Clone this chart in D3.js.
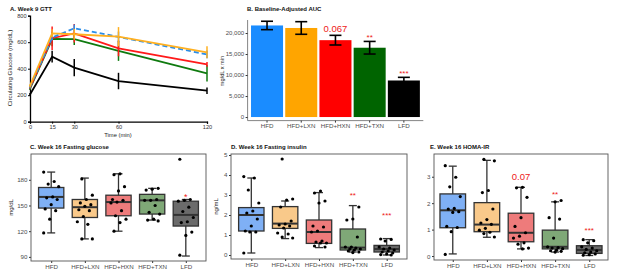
<!DOCTYPE html>
<html><head><meta charset="utf-8">
<script src="https://cdn.jsdelivr.net/npm/d3@7"></script>
<style>
body{margin:0;background:#fff;}
svg{display:block;font-family:"Liberation Sans",Arial,sans-serif;}
</style></head>
<body><svg id="c" width="617" height="280"></svg>
<script>
// ---------- DATA ----------
const groups = ["HFD","HFD+LXN","HFD+HXN","HFD+TXN","LFD"];
const barColors = ["#1a8cff","#ffa500","#ff0000","#006400","#000000"];
const boxFills = ["#7fb0f5","#f9c98a","#ee7b7b","#7fa877","#6b6b6b"];

// Panel A: GTT
const gttTimes = [0,15,30,60,120];
const gttHFD = [262,635,705,640,508];
const gttHFDsem = [10,20,28,40,30];
const gttLXN = [270,667,660,642,524];
const gttLXNsem = [10,30,40,72,45];
const gttHXN = [258,630,667,554,433];
const gttHXNsem = [10,88,70,60,18];
const gttTXN = [250,624,623,534,365];
const gttTXNsem = [10,55,45,75,62];
const gttLFD = [205,491,408,307,234];
const gttLFDsem = [10,45,65,62,24];
const gttYTicks = [0,200,400,600,800];

// Panel B: AUC
const aucMean = [21800,21200,18300,16500,8700];
const aucSem = [1000,1500,1150,1500,750];
const aucYTicks = [0,5000,10000,15000,20000];
const aucNotes = ["","","0.067","**","***"];

// Panel C: fasting glucose  [lowWhisker, q1, median, q3, highWhisker]
const gluStats = [[118,147,160,171,189],[111,136,148,157,182],[120,138,154,162,187],[133,140,156,163,170],[91,126,139,155,157]];
const gluPoints = [
  [189,178,175,172,160,159,157,151,146,144,134,118],
  [181,162,157,153,151,149,145,144,137,131,128,111,111],
  [187,186,172,167,157,156,154,153,144,138,134,130,120],
  [170,169,168,157,156,156,150,142,140,134,133,132],
  [204,157,156,155,148,143,136,131,130,119,115,92]];
const gluYTicks = [90,120,150,180];
const gluNotes = ["","","","","*"];
const gluNoteY = [0,0,0,0,162];

// Panel D: fasting insulin
const insStats = [[0.1,1.2,2.0,2.37,3.85],[0.82,1.33,1.57,2.42,2.7],[0.37,0.58,1.15,1.75,3.12],[0.15,0.25,0.37,1.3,2.47],[0.0,0.15,0.3,0.48,0.82]];
const insPoints = [
  [3.92,3.85,3.25,2.6,2.2,2.1,1.8,1.45,1.2,1.15,1.15,0.1],
  [4.8,2.8,2.75,2.4,1.7,1.55,1.5,1.45,1.35,1.1,1.05,0.9,0.85],
  [3.2,3.1,2.7,2.6,1.45,1.4,1.2,1.15,0.7,0.65,0.6,0.6,0.45,0.4],
  [2.4,1.8,1.75,0.9,0.4,0.4,0.35,0.3,0.3,0.25,0.2,0.15,0.12],
  [0.8,0.78,0.7,0.4,0.35,0.3,0.25,0.2,0.15,0.1,0.05,0.02,0.0]];
const insYTicks = [0,1,2,3,4,5];
const insNotes = ["","","","**","***"];
const insNoteY = [0,0,0,3.08,2.08];

// Panel E: HOMA-IR
const homaStats = [[0.08,1.07,1.73,2.35,3.4],[0.71,0.92,1.19,2.02,3.62],[0.27,0.54,0.88,1.62,2.6],[0.15,0.27,0.35,0.98,2.05],[0.02,0.1,0.23,0.39,0.62]];
const homaPoints = [
  [3.42,2.98,2.62,2.25,1.8,1.78,1.68,1.65,1.12,1.08,0.92,0.06],
  [3.66,3.6,2.48,2.4,1.78,1.38,1.25,1.2,1.05,0.98,0.9,0.85,0.72],
  [2.6,2.58,2.22,1.45,1.12,0.88,0.75,0.68,0.5,0.45,0.3,0.27],
  [2.1,2.05,1.45,1.4,0.68,0.35,0.32,0.3,0.28,0.22,0.2,0.18,0.15],
  [0.62,0.58,0.5,0.35,0.3,0.25,0.2,0.15,0.12,0.08,0.05,0.03]];
const homaYTicks = [0,1,2,3];
const homaNotes = ["","","0.07","**","***"];
const homaNoteY = [0,0,3.0,2.42,1.06];

// ---------- DRAW ----------
const svg = d3.select("#c");
const grey = "#4d4d4d";
const red = "#ee2020";

function title(x,y,t){
  svg.append("text").attr("x",x).attr("y",y).attr("font-size",6).attr("font-weight","bold")
    .attr("fill","#111").text(t);
}
function yTitle(x,y,t,size){
  svg.append("text").attr("transform",`translate(${x},${y}) rotate(-90)`).attr("text-anchor","middle")
    .attr("font-size",size||6).attr("fill","#222").text(t);
}
function styleAxis(g,size){
  g.selectAll("text").attr("fill",grey).attr("font-size",size||6.2).attr("font-family","Liberation Sans, Arial, sans-serif");
  g.selectAll("line").attr("stroke","#333");
}

// ===== Panel A =====
(function(){
  const x = d3.scaleLinear().domain([0,120]).range([30,207]);
  const y = d3.scaleLinear().domain([0,800]).range([121.7,15.7]);
  title(10,11,"A. Week 9 GTT");
  const ya = svg.append("g").attr("transform","translate(30,0)")
    .call(d3.axisLeft(y).tickValues(gttYTicks).tickSize(2).tickPadding(1.5));
  ya.select(".domain").attr("stroke","#000").attr("stroke-width",1.3);
  ya.selectAll("text").attr("font-size",5.6).attr("fill","#333");
  const xa = svg.append("g").attr("transform","translate(0,121.7)")
    .call(d3.axisBottom(x).tickValues(gttTimes).tickSize(2).tickPadding(1.5));
  xa.select(".domain").attr("stroke","#000").attr("stroke-width",1.3);
  xa.selectAll("text").attr("font-size",5.6).attr("fill","#333");
  yTitle(12,68,"Circulating Glucose (mg/dL)",6.2);
  svg.append("text").attr("x",118).attr("y",137).attr("text-anchor","middle").attr("font-size",5.8).attr("fill","#222").text("Time (min)");

  const series = [
    {v:gttLFD,s:gttLFDsem,c:"#000",dash:null},
    {v:gttTXN,s:gttTXNsem,c:"#0f7a0f",dash:null},
    {v:gttHXN,s:gttHXNsem,c:"#ff1a1a",dash:null},
    {v:gttHFD,s:gttHFDsem,c:"#2a8de8",dash:"5,3"},
    {v:gttLXN,s:gttLXNsem,c:"#ffb020",dash:null}
  ];
  const line = d3.line().x((d,i)=>x(gttTimes[i])).y(d=>y(d));
  series.forEach(s=>{
    svg.append("path").datum(s.v).attr("d",line).attr("fill","none").attr("stroke",s.c)
      .attr("stroke-width",1.8).attr("stroke-dasharray",s.dash);
    s.v.forEach((d,i)=>{
      svg.append("line").attr("x1",x(gttTimes[i])).attr("x2",x(gttTimes[i]))
        .attr("y1",y(d-s.s[i])).attr("y2",y(d+s.s[i])).attr("stroke",s.c).attr("stroke-width",1.5);
    });
  });
})();

// ===== Panel B =====
(function(){
  const x = d3.scaleBand().domain(groups).range([247.6,423.3]).paddingInner(0.064).paddingOuter(0.1);
  const y = d3.scaleLinear().domain([-800,23100]).range([120.4,20]);
  title(247,11,"B. Baseline-Adjusted AUC");
  svg.append("line").attr("x1",247.6).attr("x2",247.6).attr("y1",20).attr("y2",120.6).attr("stroke","#666").attr("stroke-width",0.8);
  svg.append("line").attr("x1",247.6).attr("x2",423.3).attr("y1",120.6).attr("y2",120.6).attr("stroke","#666").attr("stroke-width",0.8);
  const ya = svg.append("g").attr("transform","translate(247.6,0)")
    .call(d3.axisLeft(y).tickValues(aucYTicks).tickSize(2).tickPadding(1.5));
  ya.select(".domain").remove(); styleAxis(ya,6);
  const xa = svg.append("g").attr("transform","translate(0,120.6)")
    .call(d3.axisBottom(x).tickSize(2).tickPadding(1.5));
  xa.select(".domain").remove(); styleAxis(xa,6.2);
  yTitle(224,71,"mg/dL x min",5.6);
  groups.forEach((g,i)=>{
    svg.append("rect").attr("x",x(g)).attr("width",x.bandwidth()).attr("y",y(aucMean[i]))
      .attr("height",y(0)-y(aucMean[i])).attr("fill",barColors[i]);
  });
  groups.forEach((g,i)=>{
    const cx = x(g)+x.bandwidth()/2;
    const lo=y(aucMean[i]-aucSem[i]), hi=y(aucMean[i]+aucSem[i]);
    const e = svg.append("g").attr("stroke","#000").attr("stroke-width",1.6);
    e.append("line").attr("x1",cx).attr("x2",cx).attr("y1",lo).attr("y2",hi);
    e.append("line").attr("x1",cx-6).attr("x2",cx+6).attr("y1",lo).attr("y2",lo);
    e.append("line").attr("x1",cx-6).attr("x2",cx+6).attr("y1",hi).attr("y2",hi);
    if(aucNotes[i]){
      const big = aucNotes[i][0] !== "*";
      svg.append("text").attr("x",cx).attr("y",y(aucMean[i]+aucSem[i])-(big?3:1))
        .attr("text-anchor","middle").attr("fill",red).attr("font-size",big?9.5:8)
        .text(aucNotes[i]);
    }
  });
})();

// ===== Box panels =====
function boxPanel(o){
  const {x0,x1,y0,y1,dom,stats,points,ticks,notes,noteY,ttl,titleX,ytitle,ytitleX,pad} = o;
  const x = d3.scalePoint().domain(groups).range([x0,x1]).padding(pad||0.6);
  const y = d3.scaleLinear().domain(dom).range([y1,y0]);
  const step = x.step(), bw = step*0.75;
  title(titleX,149,ttl);
  const ya = svg.append("g").attr("transform",`translate(${x0},0)`)
    .call(d3.axisLeft(y).tickValues(ticks).tickFormat(d3.format("d")).tickSize(2).tickPadding(1.5));
  ya.select(".domain").remove(); styleAxis(ya,6.2);
  const xa = svg.append("g").attr("transform",`translate(0,${y1})`)
    .call(d3.axisBottom(x).tickSize(2).tickPadding(1.5));
  xa.select(".domain").remove(); styleAxis(xa,6.2);
  if(ytitle) yTitle(ytitleX,(y0+y1)/2,ytitle,6);
  groups.forEach((g,i)=>{
    const cx = x(g), s = stats[i];
    const b = svg.append("g").attr("stroke","#333").attr("stroke-width",1.3);
    b.append("line").attr("x1",cx).attr("x2",cx).attr("y1",y(s[0])).attr("y2",y(s[4]));
    b.append("line").attr("x1",cx-4).attr("x2",cx+4).attr("y1",y(s[0])).attr("y2",y(s[0]));
    b.append("line").attr("x1",cx-4).attr("x2",cx+4).attr("y1",y(s[4])).attr("y2",y(s[4]));
    b.append("rect").attr("x",cx-bw/2).attr("width",bw).attr("y",y(s[3])).attr("height",y(s[1])-y(s[3]))
      .attr("fill",boxFills[i]);
    b.append("line").attr("x1",cx-bw/2).attr("x2",cx+bw/2).attr("y1",y(s[2])).attr("y2",y(s[2])).attr("stroke-width",2);
    points[i].forEach((v,j)=>{
      const jit = (((j*7+i*3)%11)-5)/5*7.5;
      svg.append("circle").attr("cx",cx+jit).attr("cy",y(v)).attr("r",1.6).attr("fill","#000");
    });
    if(notes[i]){
      const big = notes[i][0] !== "*";
      svg.append("text").attr("x",cx).attr("y",y(noteY[i])+(big?3.5:4.5)).attr("text-anchor","middle")
        .attr("fill",red).attr("font-size",big?9.5:(notes[i].length===1?9:8)).text(notes[i]);
    }
  });
  svg.append("rect").attr("x",x0).attr("y",y0).attr("width",x1-x0).attr("height",y1-y0)
    .attr("fill","none").attr("stroke","#555").attr("stroke-width",0.9);
}

boxPanel({x0:31,x1:206,y0:154,y1:261,dom:[85.2,210.1],stats:gluStats,points:gluPoints,ticks:gluYTicks,
  notes:gluNotes,noteY:gluNoteY,ttl:"C. Week 16 Fasting glucose",titleX:30,ytitle:"mg/dL",ytitleX:13});
boxPanel({x0:231,x1:407,y0:154,y1:259,dom:[-0.2,5.05],stats:insStats,points:insPoints,ticks:insYTicks,
  notes:insNotes,noteY:insNoteY,ttl:"D. Week 16 Fasting insulin",titleX:231,ytitle:"ng/mL",ytitleX:218});
boxPanel({x0:434,x1:608,y0:154,y1:260,dom:[-0.15,3.86],stats:homaStats,points:homaPoints,ticks:homaYTicks,
  notes:homaNotes,noteY:homaNoteY,ttl:"E. Week 16 HOMA-IR",titleX:430,ytitle:null,pad:0.55});
</script>
</body></html>
